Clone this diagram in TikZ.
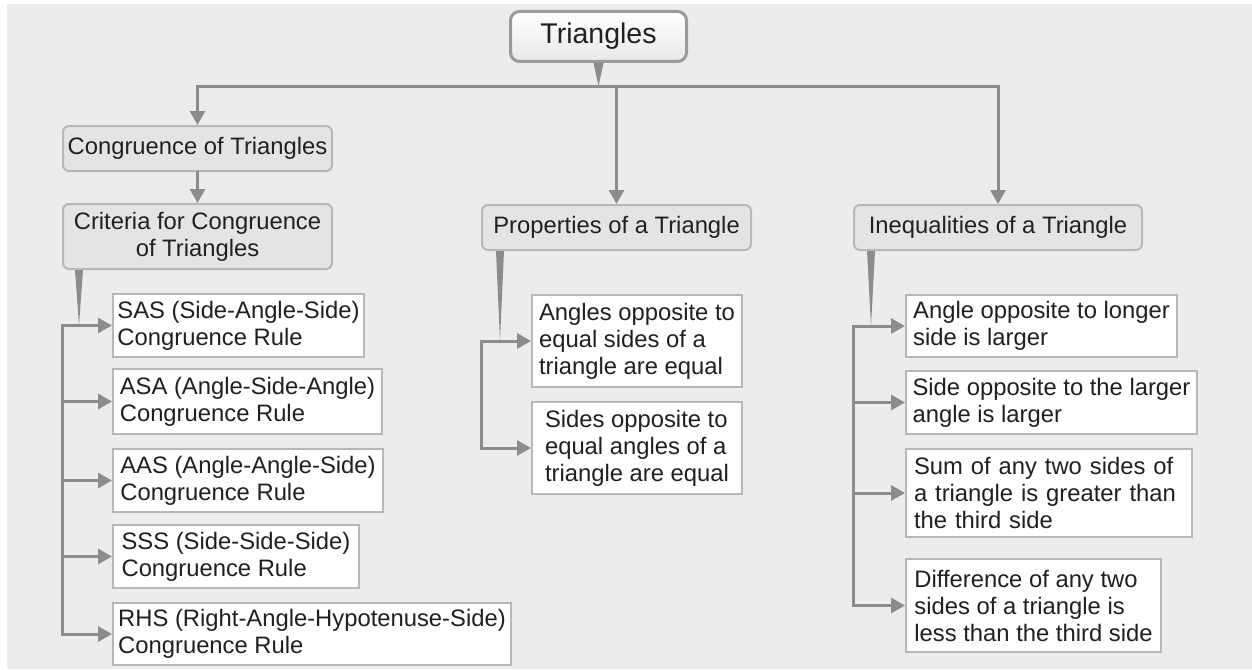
\documentclass[tikz,border=0pt]{standalone}
\usepackage{fontspec}
\setmainfont{Liberation Sans}
\usetikzlibrary{arrows.meta}

\definecolor{panel}{HTML}{ECECEC}
\definecolor{ink}{HTML}{231F20}
\definecolor{wiregray}{HTML}{8C8C8E}
\definecolor{edgegray}{HTML}{B8B8BA}
\definecolor{headfill}{HTML}{E4E4E6}
\definecolor{titleedge}{HTML}{9A9A9C}

\tikzset{
  base/.style={text=ink, font=\fontsize{23.8}{27}\selectfont, inner xsep=3pt, inner ysep=2pt},
  titlebox/.style={base, draw=titleedge, line width=3pt, rounded corners=9pt,
    top color=white, bottom color=black!9, font=\fontsize{28.5}{32}\selectfont,
    minimum width=176pt, minimum height=50pt},
  headbox/.style={base, draw=edgegray, line width=2pt, rounded corners=6pt,
    fill=headfill, align=center},
  leaf/.style={base, draw=edgegray, line width=2pt, fill=white, align=left},
  link/.style={draw=wiregray, line width=3pt, line cap=rect},
  feed/.style={link, -{Triangle[length=14pt,width=15pt]}},
  tail/.style={fill=wiregray},
}

\begin{document}
\begin{tikzpicture}[x=1pt,y=-1pt]
  \useasboundingbox (0,0) rectangle (1252,669);
  \fill[panel] (7,4) rectangle (1252,669);

  % root and group headers
  \node[titlebox] (tri) at (598.5,36.5) {Triangles};
  \node[headbox, minimum width=269pt, minimum height=45pt] (cong) at (197.5,148.5) {Congruence of Triangles};
  \node[headbox, minimum width=269pt, minimum height=65pt] (crit) at (197.5,236.5) {Criteria for Congruence\\of Triangles};
  \node[headbox, minimum width=269pt, minimum height=45pt] (prop) at (616.5,227.5) {Properties of a Triangle};
  \node[headbox, minimum width=288pt, minimum height=45pt] (ineq) at (998,227.5) {Inequalities of a Triangle};

  % congruence rules
  \node[leaf, minimum width=251pt, minimum height=63pt] (sas) at (238.5,325.5) {SAS (Side-Angle-Side)\\Congruence Rule};
  \node[leaf, minimum width=269pt, minimum height=65pt] (asa) at (247.5,401.5) {ASA (Angle-Side-Angle)\\Congruence Rule};
  \node[leaf, minimum width=270pt, minimum height=63pt] (aas) at (248,480.5) {AAS (Angle-Angle-Side)\\Congruence Rule};
  \node[leaf, minimum width=246pt, minimum height=63pt] (sss) at (236,556.5) {SSS (Side-Side-Side)\\Congruence Rule};
  \node[leaf, minimum width=398pt, minimum height=62pt] (rhs) at (312,634) {RHS (Right-Angle-Hypotenuse-Side)\\Congruence Rule};

  % properties
  \node[leaf, minimum width=210pt, minimum height=92pt] (p1) at (637,341) {Angles opposite to\\equal sides of a\\triangle are equal};
  \node[leaf, minimum width=210pt, minimum height=92pt] (p2) at (637,448) {Sides opposite to\\equal angles of a\\triangle are equal};

  % inequalities
  \node[leaf, minimum width=271pt, minimum height=62pt] (i1) at (1041.5,326) {Angle opposite to longer\\side is larger};
  \node[leaf, minimum width=291pt, minimum height=63pt] (i2) at (1051.5,402.5) {Side opposite to the larger\\angle is larger};
  \node[leaf, inner xsep=8pt, text width=270pt, minimum height=88pt] (i3) at (1049,493) {Sum of any two sides of\\a triangle is greater than\\the third side};
  \node[leaf, minimum width=255pt, minimum height=93pt] (i4) at (1033.5,605.5) {Difference of any two\\sides of a triangle is\\less than the third side};

  % root to headers
  \coordinate (busy) at (0,86);
  \coordinate (bus) at (tri.south |- busy);
  \fill[tail] ([xshift=-5pt]tri.south) -- ([xshift=5pt]tri.south) -- (bus) -- cycle;
  \draw[feed] (bus) -| (cong.north);
  \draw[feed] (bus) -| (prop.north);
  \draw[feed] (bus) -| (ineq.north);
  \draw[feed] (cong.south) -- (crit.north);

  % criteria branch
  \coordinate (ctop) at ([xshift=17pt]crit.south west);
  \coordinate (ctip) at (ctop |- sas.west);
  \coordinate (ctrunk) at (crit.south west |- sas.west);
  \fill[tail] ([xshift=-4pt]ctop) -- ([xshift=4pt]ctop) -- (ctip) -- cycle;
  \draw[link] (ctrunk) -- (ctrunk |- rhs.west);
  \foreach \n in {sas,asa,aas,sss,rhs}
    \draw[feed] (ctrunk |- \n.west) -- (\n.west);

  % properties branch
  \coordinate (ptop) at ([xshift=19pt]prop.south west);
  \coordinate (ptip) at (ptop |- p1.west);
  \coordinate (ptrunk) at (prop.south west |- p1.west);
  \fill[tail] ([xshift=-4pt]ptop) -- ([xshift=4pt]ptop) -- (ptip) -- cycle;
  \draw[link] (ptrunk) -- (ptrunk |- p2.west);
  \foreach \n in {p1,p2}
    \draw[feed] (ptrunk |- \n.west) -- (\n.west);

  % inequalities branch
  \coordinate (itop) at ([xshift=18pt]ineq.south west);
  \coordinate (itip) at (itop |- i1.west);
  \coordinate (itrunk) at (ineq.south west |- i1.west);
  \fill[tail] ([xshift=-4pt]itop) -- ([xshift=4pt]itop) -- (itip) -- cycle;
  \draw[link] (itrunk) -- (itrunk |- i4.west);
  \foreach \n in {i1,i2,i3,i4}
    \draw[feed] (itrunk |- \n.west) -- (\n.west);
\end{tikzpicture}
\end{document}
